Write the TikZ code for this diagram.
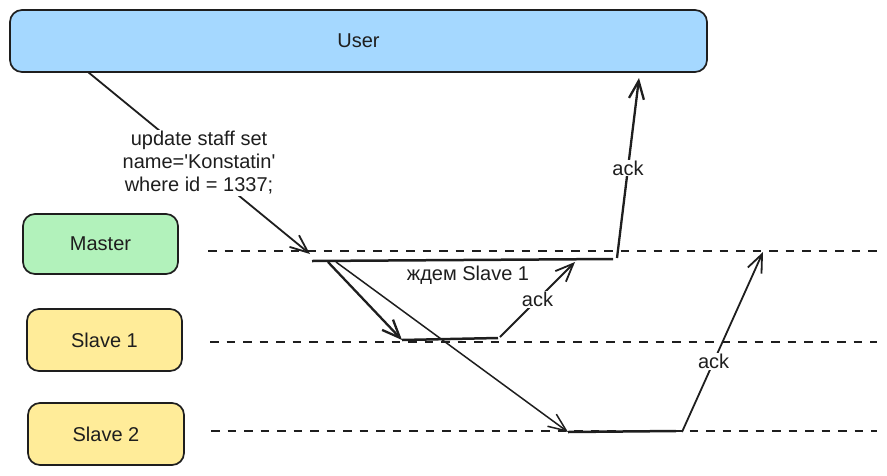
\documentclass[tikz,border=0pt]{standalone}
\usepackage{fontspec}
\setmainfont{Liberation Sans}
\usetikzlibrary{arrows.meta}
\definecolor{ink}{HTML}{1E1E1E}
\definecolor{userblue}{HTML}{A5D8FF}
\definecolor{mastergreen}{HTML}{B2F2BB}
\definecolor{slaveyellow}{HTML}{FFEC99}

\begin{document}
\begin{tikzpicture}[x=1pt, y=-1pt, every node/.style={font=\fontsize{20}{23}\selectfont, text=ink},
    box/.style={draw=ink, line width=1.7pt, rounded corners=12pt, minimum height=62pt},
    lane/.style={draw=ink, line width=1.2pt, dash pattern=on 8.5pt off 8pt},
    msg/.style={draw=ink, line width=1.8pt, -{Straight Barb[length=18pt, width=15pt]}},
    busy/.style={draw=ink, line width=2.5pt},
    lbl/.style={fill=white, inner sep=1pt}]
\useasboundingbox (0,0) rectangle (887,475);
\node[box, fill=userblue, minimum width=697pt] (user) at (358.5,41) {User};
\node[box, fill=mastergreen, minimum width=155pt, minimum height=60pt] (master) at (100.5,244) {Master};
\node[box, fill=slaveyellow, minimum width=155pt] (slave1) at (104.5,340) {Slave 1};
\node[box, fill=slaveyellow, minimum width=156pt] (slave2) at (106,434) {Slave 2};
% timelines
\foreach \n/\x/\y in {m/208/251, s1/210/342, s2/211/431} {
    \coordinate (\n0) at (\x,\y);
    \coordinate (\n1) at (877,\y);
    \draw[lane] (\n0) -- (\n1);
}
% events
\coordinate (q0) at (88,72);
\coordinate (q1) at (310,254);
\coordinate (mw0) at (312,261);
\coordinate (mw1) at (613,259);
\coordinate (a0) at (617,258);
\coordinate (a1) at (639,78);
\coordinate (r0) at (328,262);
\coordinate (r1) at (402,340);
\coordinate (t0) at (336,262);
\coordinate (t1) at (568,432);
\coordinate (sw1) at (498,338);
\coordinate (b0) at (500,337);
\coordinate (b1) at (575,262);
\coordinate (tw1) at (676,431);
\coordinate (c0) at (682,432);
\coordinate (c1) at (763,252);
% request
\draw[msg] (q0) -- node[lbl, align=center] {update staff set\\name=\textquotesingle Konstatin\textquotesingle\\where id = 1337;} (q1);
% master
\draw[busy] (mw0) -- (mw1);
\node (wait1) at (468,275) {ждем Slave 1};
\draw[msg, line width=2.3pt] (a0) -- node[lbl] {ack} (a1);
% replication
\draw[msg, line width=2.3pt] (r0) -- (r1);
\draw[msg, line width=1.5pt] (t0) -- (t1);
% slave 1
\draw[busy] (r1) -- (sw1);
\draw[msg] (b0) -- node[lbl] {ack} (b1);
% slave 2
\draw[busy] (t1) -- (tw1);
\draw[msg] (c0) -- node[lbl, pos=0.39] {ack} (c1);
\end{tikzpicture}
\end{document}
